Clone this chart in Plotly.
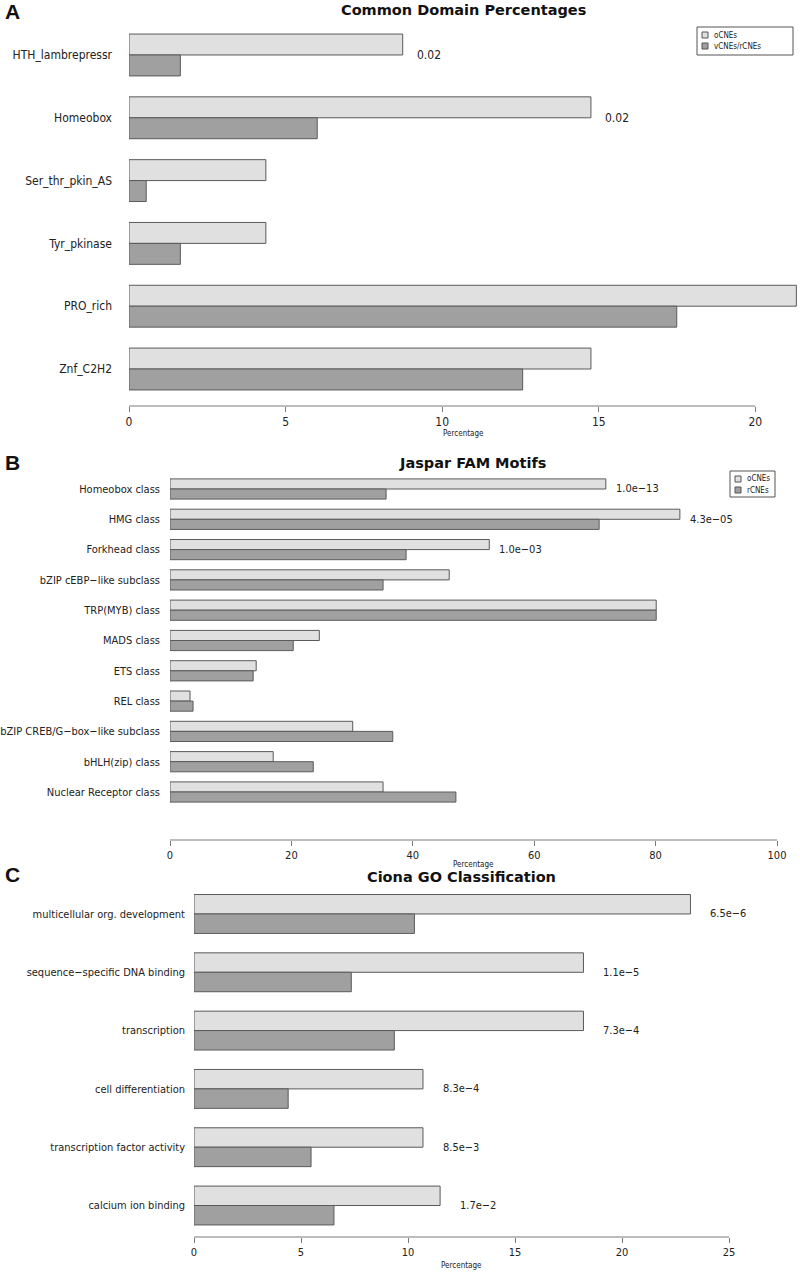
import plotly.graph_objects as go

# ---------------- data ----------------
A_cats = ["HTH_lambrepressr", "Homeobox", "Ser_thr_pkin_AS", "Tyr_pkinase", "PRO_rich", "Znf_C2H2"]
A_ocne = [8.74, 14.75, 4.37, 4.37, 21.31, 14.75]
A_vcne = [1.64, 6.01, 0.55, 1.64, 17.49, 12.57]
A_pvals = ["0.02", "0.02", "", "", "", ""]
A_ticks = [0, 5, 10, 15, 20]

B_cats = ["Homeobox class", "HMG class", "Forkhead class", "bZIP cEBP\u2212like subclass",
          "TRP(MYB) class", "MADS class", "ETS class", "REL class",
          "bZIP CREB/G\u2212box\u2212like subclass", "bHLH(zip) class", "Nuclear Receptor class"]
B_ocne = [71.8, 84.0, 52.6, 46.0, 80.1, 24.6, 14.2, 3.3, 30.1, 17.0, 35.1]
B_rcne = [35.6, 70.7, 38.9, 35.1, 80.1, 20.3, 13.7, 3.8, 36.7, 23.6, 47.1]
B_pvals = ["1.0e\u221213", "4.3e\u221205", "1.0e\u221203", "", "", "", "", "", "", "", ""]
B_ticks = [0, 20, 40, 60, 80, 100]

C_cats = ["multicellular org. development", "sequence\u2212specific DNA binding", "transcription",
          "cell differentiation", "transcription factor activity", "calcium ion binding"]
C_ocne = [23.2, 18.2, 18.2, 10.7, 10.7, 11.5]
C_rcne = [10.3, 7.35, 9.36, 4.4, 5.47, 6.54]
C_pvals = ["6.5e\u22126", "1.1e\u22125", "7.3e\u22124", "8.3e\u22124", "8.5e\u22123", "1.7e\u22122"]
C_ticks = [0, 5, 10, 15, 20, 25]

W, H = 800, 1272
LIGHT = "#e0e0e0"
DARK = "#a0a0a0"
EDGE = "#5a5a5a"
AXC = "#7a7a7a"
TXT = "#222"
FONT = "DejaVu Sans Condensed, DejaVu Sans"


def px(p):
    return p / W


def py(p):
    return 1 - p / H


fig = go.Figure()

panels = [
    dict(cats=A_cats, o=A_ocne, r=A_vcne, p=A_pvals, ticks=A_ticks, names=("oCNEs", "vCNEs/rCNEs"),
         xd=(129, 797), yd=(20, 406), xr=[0, 21.33], yr=[5.589, -0.557], s="",
         tf=12, pf=12, psh=12, lstand=16, title="Common Domain Percentages", tx=463, ty=10,
         letter="A", ly=12, perc_y=433,
         legbox=(697, 793, 27, 55), legrows=(35, 46)),
    dict(cats=B_cats, o=B_ocne, r=B_rcne, p=B_pvals, ticks=B_ticks, names=("oCNEs", "rCNEs"),
         xd=(170, 777), yd=(472, 840), xr=[0, 100], yr=[11.584, -0.561], s="2",
         tf=11, pf=11, psh=8, lstand=9, title="Jaspar FAM Motifs", tx=472, ty=463,
         letter="B", ly=463, perc_y=864,
         legbox=(730, 775, 471, 497), legrows=(479, 490)),
    dict(cats=C_cats, o=C_ocne, r=C_rcne, p=C_pvals, ticks=C_ticks, names=None,
         xd=(194, 729), yd=(885, 1237), xr=[0, 25], yr=[5.54, -0.497], s="3",
         tf=11, pf=11, psh=18, lstand=8, title="Ciona GO Classification", tx=461, ty=877,
         letter="C", ly=874, perc_y=1265, legbox=None, legrows=None),
]

annotations = []
shapes = []
for pn in panels:
    s = pn["s"]
    xa = "x" + s
    ya = "y" + s
    nm = pn["names"] or ("oCNEs", "rCNEs")
    fig.add_trace(go.Bar(y=pn["cats"], x=pn["o"], orientation="h", name=nm[0],
                         marker=dict(color=LIGHT, line=dict(color=EDGE, width=1)),
                         xaxis=xa, yaxis=ya, showlegend=False))
    fig.add_trace(go.Bar(y=pn["cats"], x=pn["r"], orientation="h", name=nm[1],
                         marker=dict(color=DARK, line=dict(color=EDGE, width=1)),
                         xaxis=xa, yaxis=ya, showlegend=False))
    xkey = "xaxis" + s
    ykey = "yaxis" + s
    fig.update_layout(**{
        xkey: dict(domain=[px(pn["xd"][0]), px(pn["xd"][1])], range=pn["xr"], anchor=ya,
                   tickvals=pn["ticks"], ticks="outside", ticklen=5, tickcolor=AXC,
                   showline=False, showgrid=False, zeroline=False, automargin=False,
                   tickfont=dict(family=FONT, size=pn["tf"], color=TXT)),
        ykey: dict(domain=[py(pn["yd"][1]), py(pn["yd"][0])], range=pn["yr"], anchor=xa,
                   type="category", showgrid=False, showline=False, zeroline=False, ticks="",
                   ticklabelstandoff=pn["lstand"], automargin=False,
                   tickfont=dict(family=FONT, size=pn["tf"], color=TXT)),
    })
    # R-style axis line spanning first to last tick
    shapes.append(dict(type="line", xref=xa, yref=ya + " domain", x0=pn["ticks"][0], x1=pn["ticks"][-1],
                       y0=0, y1=0, line=dict(color=AXC, width=1)))
    # axis title
    annotations.append(dict(x=px((pn["xd"][0] + pn["xd"][1]) / 2), y=py(pn["perc_y"]),
                            xref="paper", yref="paper", text="Percentage", showarrow=False,
                            xanchor="center", yanchor="middle",
                            font=dict(family=FONT, size=8, color=TXT)))
    # p-values
    for c, v, t in zip(pn["cats"], pn["o"], pn["p"]):
        if t:
            annotations.append(dict(x=v, y=c, xref=xa, yref=ya, text=t, showarrow=False,
                                    xanchor="left", yanchor="middle", xshift=pn["psh"],
                                    font=dict(family=FONT, size=pn["pf"], color=TXT)))
    # titles and panel letters
    annotations.append(dict(x=px(pn["tx"]), y=py(pn["ty"]), xref="paper", yref="paper",
                            text="<b>" + pn["title"] + "</b>", showarrow=False,
                            xanchor="center", yanchor="middle",
                            font=dict(family="DejaVu Sans", size=14.5, color="#111")))
    annotations.append(dict(x=px(3), y=py(pn["ly"]), xref="paper", yref="paper",
                            text="<b>" + pn["letter"] + "</b>", showarrow=False,
                            xanchor="left", yanchor="middle",
                            font=dict(family="Liberation Sans", size=21, color="#111")))
    # legend box (R-style)
    if pn["legbox"]:
        x0, x1, y0, y1 = pn["legbox"]
        shapes.append(dict(type="rect", xref="paper", yref="paper", x0=px(x0), x1=px(x1),
                           y0=py(y1), y1=py(y0), line=dict(color="#555", width=1),
                           fillcolor="white", layer="above"))
        for name, col, ry in zip(pn["names"], (LIGHT, DARK), pn["legrows"]):
            shapes.append(dict(type="rect", xref="paper", yref="paper",
                               x0=px(x0 + 5), x1=px(x0 + 11), y0=py(ry + 3), y1=py(ry - 3),
                               line=dict(color="#555", width=1), fillcolor=col, layer="above"))
            annotations.append(dict(x=px(x0 + 15), y=py(ry), xref="paper", yref="paper",
                                    text=name, showarrow=False, xanchor="left", yanchor="middle",
                                    font=dict(family=FONT, size=8, color=TXT)))

fig.update_layout(
    width=W, height=H, margin=dict(l=0, r=0, t=0, b=0, autoexpand=False),
    paper_bgcolor="white", plot_bgcolor="white",
    barmode="group", bargap=1 / 3, bargroupgap=0,
    showlegend=False, hovermode=False,
    annotations=annotations, shapes=shapes,
)

fig.write_html("out.html", config={"displayModeBar": False},
               post_script="document.body.style.margin='0';document.body.style.overflow='hidden';")
